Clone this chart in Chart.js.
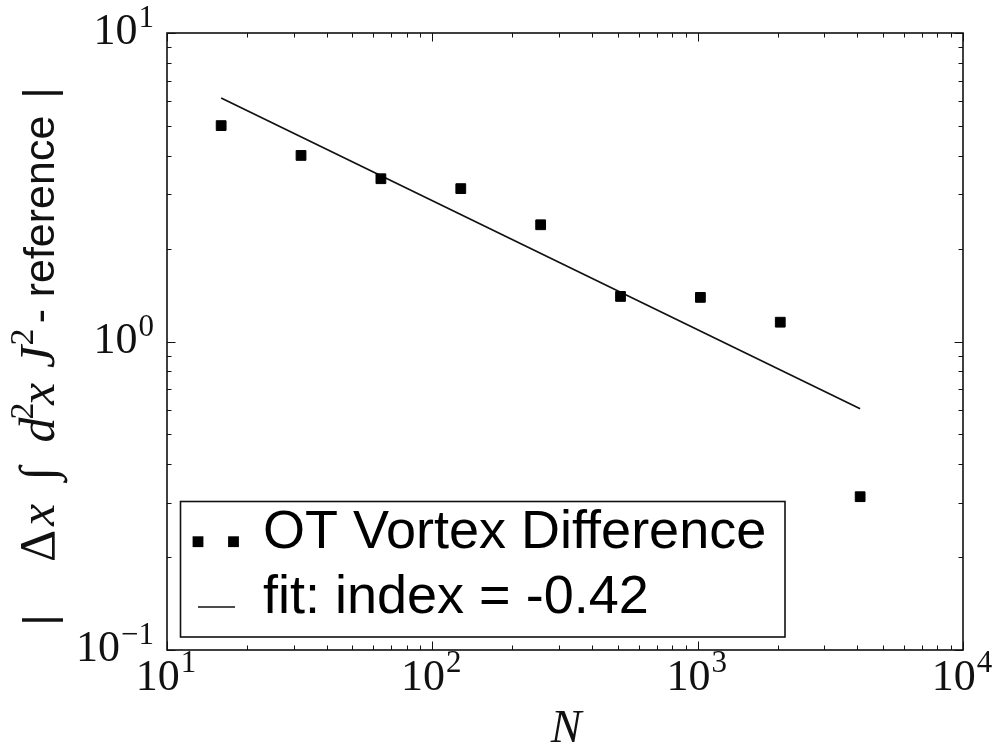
<!DOCTYPE html>
<html>
<head>
<meta charset="utf-8">
<script src="https://cdn.jsdelivr.net/npm/chart.js@4.4.1/dist/chart.umd.min.js"></script>
<style>
html, body { margin: 0; padding: 0; background: #fff; }
#wrap { width: 992px; height: 748px; }
</style>
</head>
<body>
<div id="wrap"><canvas id="c" width="992" height="748"></canvas></div>
<script>
// Grid sizes N and the measured difference from the reference for the OT vortex run
const gridSizes = [16, 32, 64, 128, 256, 512, 1024, 2048, 4096];
const vortexDifference = [5.01, 4.01, 3.37, 3.13, 2.39, 1.40, 1.39, 1.155, 0.314];
// Power-law fit, evaluated at the two ends of the N range
const fitSizes = [16, 4096];
const fitValues = [6.16, 0.605];
const fitIndex = '-0.42';
// Decade exponents labelled on each axis
const xExponents = [1, 2, 3, 4];
const yExponents = [-1, 0, 1];
const seriesLabels = ['OT Vortex Difference', 'fit: index = ' + fitIndex];
const xTitle = 'N';

const serif = (px, italic) => (italic ? 'italic ' : '') + px + 'px "Liberation Serif", "DejaVu Serif", serif';
const sans = px => px + 'px "Liberation Sans", Arial, sans-serif';

// y-axis title pieces, read bottom to top: text, font, centre along the axis,
// and a baseline shift for the raised exponents
const yTitleParts = [
  { t: '|', f: sans(44), mid: 620 },
  { t: '\u0394', f: serif(50), mid: 546 },
  { t: 'x', f: serif(50, true), mid: 515 },
  { t: '\u222B', f: serif(50), mid: 474 },
  { t: 'd', f: serif(50, true), mid: 430 },
  { t: '2', f: serif(34), mid: 411, dy: -21 },
  { t: 'x', f: serif(50, true), mid: 394 },
  { t: 'J', f: serif(50, true), mid: 357 },
  { t: '2', f: serif(34), mid: 337, dy: -21 },
  { t: '-', f: sans(43), mid: 316 },
  { t: 'reference', f: sans(43), mid: 206.5 },
  { t: '|', f: sans(44), mid: 93 }
];

function hline(ctx, x1, y1, x2, y2) {
  ctx.beginPath();
  ctx.moveTo(x1, y1);
  ctx.lineTo(x2, y2);
  ctx.stroke();
}

// Inward major/minor ticks on both sides of a log axis
function drawLogTicks(ctx, scale, area, horizontal, exps) {
  const lo = exps[0], hi = exps[exps.length - 1];
  ctx.strokeStyle = '#111';
  ctx.lineWidth = 1;
  for (let e = lo; e <= hi; e++) {
    for (let m = 1; m <= 9; m++) {
      if (e === hi && m > 1) break;
      const v = m * Math.pow(10, e);
      const p = Math.round(scale.getPixelForValue(v)) + 0.5;
      const len = m === 1 ? 8.5 : 4.5;
      if (horizontal) {
        hline(ctx, p, area.bottom, p, area.bottom - len);
        hline(ctx, p, area.top, p, area.top + len);
      } else {
        hline(ctx, area.left, p, area.left + len, p);
        hline(ctx, area.right, p, area.right - len, p);
      }
    }
  }
}

function supText(e) { return String(e).replace('-', '\u2212'); }

const decorations = {
  id: 'decorations',
  afterDatasetsDraw(chart) {
    const ctx = chart.ctx;
    const area = chart.chartArea;
    const xs = chart.scales.x, ys = chart.scales.y;
    ctx.save();

    // frame
    ctx.strokeStyle = '#111';
    ctx.lineWidth = 1.6;
    ctx.strokeRect(area.left, area.top, area.right - area.left, area.bottom - area.top);

    drawLogTicks(ctx, xs, area, true, xExponents);
    drawLogTicks(ctx, ys, area, false, yExponents);

    // tick labels: 10 with a raised exponent
    ctx.fillStyle = '#111';
    ctx.textBaseline = 'alphabetic';
    const mainFont = serif(44), supFont = serif(31);
    yExponents.forEach(e => {
      const p = ys.getPixelForValue(Math.pow(10, e));
      ctx.font = supFont;
      const ws = ctx.measureText(supText(e)).width;
      ctx.textAlign = 'right';
      ctx.fillText(supText(e), area.left - 13, p - 6);
      ctx.font = mainFont;
      ctx.fillText('10', area.left - 13 - ws - 1, p + 11);
    });
    xExponents.forEach(e => {
      const p = xs.getPixelForValue(Math.pow(10, e));
      ctx.font = mainFont;
      const wm = ctx.measureText('10').width;
      ctx.font = supFont;
      const ws = ctx.measureText(supText(e)).width;
      const x0 = p - (wm + ws + 1) / 2 - 1;
      ctx.textAlign = 'left';
      ctx.font = mainFont;
      ctx.fillText('10', x0, area.bottom + 40);
      ctx.font = supFont;
      ctx.fillText(supText(e), x0 + wm + 1, area.bottom + 22);
    });

    // x title
    ctx.font = serif(46, true);
    ctx.textAlign = 'center';
    ctx.fillText(xTitle, (area.left + area.right) / 2 + 1, 742);

    // y title, rotated to read upwards
    ctx.save();
    ctx.translate(54, 0);
    ctx.rotate(-Math.PI / 2);
    ctx.textAlign = 'center';
    yTitleParts.forEach(s => {
      ctx.font = s.f;
      ctx.fillText(s.t, -s.mid, s.dy || 0);
    });
    ctx.restore();

    // legend box
    const lx = 180.5, ly = 501.5, lw = 604.5, lh = 135.5;
    ctx.fillStyle = '#fff';
    ctx.fillRect(lx, ly, lw, lh);
    ctx.strokeStyle = '#111';
    ctx.lineWidth = 1.6;
    ctx.strokeRect(lx, ly, lw, lh);
    const ds = chart.data.datasets;
    ctx.fillStyle = ds[0].backgroundColor;
    [198, 233.5].forEach(cx => ctx.fillRect(cx - 5.4, 541.7 - 5.4, 10.8, 10.8));
    ctx.strokeStyle = ds[1].borderColor;
    ctx.lineWidth = ds[1].borderWidth;
    hline(ctx, 198, 607, 235, 607);
    ctx.fillStyle = '#000';
    ctx.font = sans(54);
    ctx.textAlign = 'left';
    ctx.fillText(ds[0].label, 263, 548);
    ctx.fillText(ds[1].label, 263, 613);

    ctx.restore();
  }
};

new Chart(document.getElementById('c'), {
  type: 'scatter',
  data: {
    datasets: [
      {
        label: seriesLabels[0],
        data: gridSizes.map((n, i) => ({ x: n, y: vortexDifference[i] })),
        pointStyle: 'rect',
        pointRadius: 6.9,
        borderWidth: 1,
        backgroundColor: '#000',
        borderColor: '#000',
        showLine: false
      },
      {
        label: seriesLabels[1],
        data: fitSizes.map((n, i) => ({ x: n, y: fitValues[i] })),
        showLine: true,
        pointRadius: 0,
        borderColor: '#111',
        borderWidth: 1.7,
        backgroundColor: '#111'
      }
    ]
  },
  options: {
    responsive: false,
    devicePixelRatio: 1,
    animation: false,
    layout: { padding: { left: 167, top: 33, right: 29, bottom: 98 } },
    plugins: { legend: { display: false }, tooltip: { enabled: false } },
    scales: {
      x: {
        type: 'logarithmic', min: 10, max: 10000,
        grid: { display: false }, border: { display: false },
        ticks: { display: false }, title: { display: false },
        afterFit: s => { s.height = 0; }
      },
      y: {
        type: 'logarithmic', min: 0.1, max: 10,
        grid: { display: false }, border: { display: false },
        ticks: { display: false }, title: { display: false },
        afterFit: s => { s.width = 0; }
      }
    }
  },
  plugins: [decorations]
});
</script>
</body>
</html>
